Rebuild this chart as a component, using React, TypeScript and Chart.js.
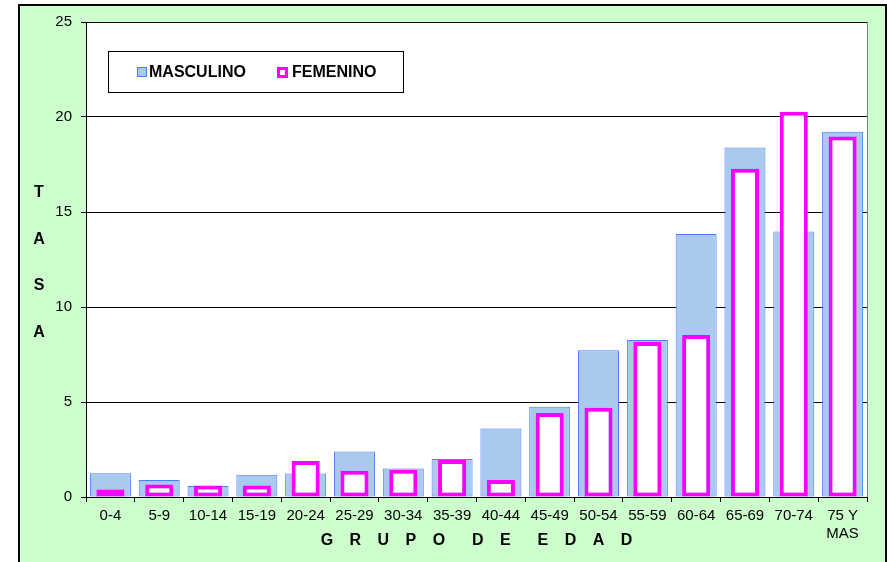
import { useEffect, useRef } from 'react';
import Chart from 'chart.js/auto';

const categories: (string | string[])[] = [
  '0-4', '5-9', '10-14', '15-19', '20-24', '25-29', '30-34', '35-39',
  '40-44', '45-49', '50-54', '55-59', '60-64', '65-69', '70-74', ['75 Y', 'MAS'],
];
const masculino = [1.25, 0.89, 0.58, 1.17, 1.24, 2.4, 1.5, 2.0, 3.6, 4.75, 7.72, 8.26, 13.84, 18.4, 13.98, 19.23];
const femenino = [0.4, 0.66, 0.6, 0.6, 1.9, 1.38, 1.44, 1.95, 0.9, 4.42, 4.7, 8.16, 8.53, 17.27, 20.27, 18.98];
const seriesNames = ['MASCULINO', 'FEMENINO'];
const yMin = 0;
const yMax = 25;
const yStep = 5;
const xTitle = 'G R U P O  D E  E D A D';
const yTitleLetters = ['T', 'A', 'S', 'A'];

const BLUE_FILL = '#a8caef';
const BLUE_BORDER = '#4a7dff';
const PINK = '#ff00ff';
const GREEN = '#ccffcc';

const decorPlugin = {
  id: 'decor',
  beforeDraw(chart: any) {
    const { ctx, chartArea } = chart;
    ctx.save();
    ctx.fillStyle = '#ffffff';
    ctx.fillRect(0, 0, chart.width, chart.height);
    ctx.fillStyle = GREEN;
    ctx.fillRect(19, 5, 867, 600);
    ctx.strokeStyle = '#000000';
    ctx.lineWidth = 2;
    ctx.strokeRect(19, 5, 867, 600);
    ctx.fillStyle = '#ffffff';
    ctx.fillRect(chartArea.left, chartArea.top, chartArea.right - chartArea.left, chartArea.bottom - chartArea.top);
    ctx.restore();
  },
  afterDraw(chart: any) {
    const { ctx, chartArea } = chart;
    ctx.save();
    // right border of plot area
    ctx.strokeStyle = '#808080';
    ctx.lineWidth = 1;
    ctx.beginPath();
    ctx.moveTo(Math.round(chartArea.right) + 0.5, chartArea.top);
    ctx.lineTo(Math.round(chartArea.right) + 0.5, chartArea.bottom);
    ctx.stroke();

    // legend box
    ctx.fillStyle = '#ffffff';
    ctx.fillRect(108.5, 51.5, 295, 41);
    ctx.strokeStyle = '#000000';
    ctx.lineWidth = 1;
    ctx.strokeRect(108.5, 51.5, 295, 41);
    // masculino marker
    ctx.fillStyle = BLUE_FILL;
    ctx.fillRect(137.5, 67.5, 9, 9);
    ctx.strokeStyle = BLUE_BORDER;
    ctx.strokeRect(137.5, 67.5, 9, 9);
    // femenino marker
    ctx.fillStyle = '#ffffff';
    ctx.fillRect(277, 67, 11, 11);
    ctx.strokeStyle = PINK;
    ctx.lineWidth = 3;
    ctx.strokeRect(278.5, 68.5, 8, 8);
    ctx.fillStyle = '#000000';
    ctx.font = 'bold 16px "Liberation Sans", Arial, sans-serif';
    ctx.textBaseline = 'middle';
    ctx.textAlign = 'left';
    ctx.fillText(seriesNames[0], 149, 72.5);
    ctx.fillText(seriesNames[1], 292, 72.5);

    // x title with letter spacing
    ctx.font = 'bold 16px "Liberation Sans", Arial, sans-serif';
    const spacing = 6;
    const chars = xTitle.split('');
    let total = 0;
    chars.forEach((c, i) => {
      total += ctx.measureText(c).width + (i < chars.length - 1 ? spacing : 0);
    });
    let x = (chartArea.left + chartArea.right) / 2 - total / 2;
    chars.forEach((c) => {
      ctx.fillText(c, x, 541);
      x += ctx.measureText(c).width + spacing;
    });

    // y title stacked letters
    ctx.textAlign = 'center';
    const ys = [193, 240, 286, 333];
    yTitleLetters.forEach((c, i) => ctx.fillText(c, 39, ys[i]));
    ctx.restore();
  },
};

export default function App() {
  const ref = useRef<HTMLCanvasElement | null>(null);
  useEffect(() => {
    document.body.style.margin = '0';
    const canvas = ref.current!;
    const chart = new Chart(canvas, {
      type: 'bar',
      data: {
        labels: categories,
        datasets: [
          {
            label: seriesNames[0],
            data: masculino,
            backgroundColor: BLUE_FILL,
            borderColor: BLUE_BORDER,
            borderWidth: 1,
            borderSkipped: false,
            grouped: false,
            barPercentage: 0.84,
            categoryPercentage: 1,
            order: 2,
          } as any,
          {
            label: seriesNames[1],
            data: femenino,
            backgroundColor: '#ffffff',
            borderColor: PINK,
            borderWidth: 4,
            borderSkipped: false,
            grouped: false,
            barPercentage: 0.575,
            categoryPercentage: 1,
            order: 1,
          } as any,
        ],
      },
      options: {
        animation: false,
        responsive: false,
        devicePixelRatio: 1,
        layout: { padding: { left: 0, right: 20, top: 22, bottom: 0 } },
        plugins: { legend: { display: false }, tooltip: { enabled: false } },
        scales: {
          x: {
            afterFit: (s: any) => { s.height = 65; },
            grid: { drawOnChartArea: false, drawTicks: true, tickLength: 5, color: '#000000', offset: true },
            border: { display: true, color: '#000000' },
            ticks: {
              color: '#000000',
              padding: 5,
              maxRotation: 0,
              autoSkip: false,
              font: { family: '"Liberation Sans", Arial, sans-serif', size: 15 },
            },
          },
          y: {
            min: yMin,
            max: yMax,
            afterFit: (s: any) => { s.width = 86; },
            grid: { color: '#000000', drawTicks: true, tickLength: 5 },
            border: { display: true, color: '#000000' },
            ticks: {
              stepSize: yStep,
              color: '#000000',
              padding: 9,
              font: { family: '"Liberation Sans", Arial, sans-serif', size: 15 },
            },
          },
        },
      },
      plugins: [decorPlugin],
    });
    return () => chart.destroy();
  }, []);
  return <canvas ref={ref} width={887} height={562} style={{ display: 'block' }} />;
}
